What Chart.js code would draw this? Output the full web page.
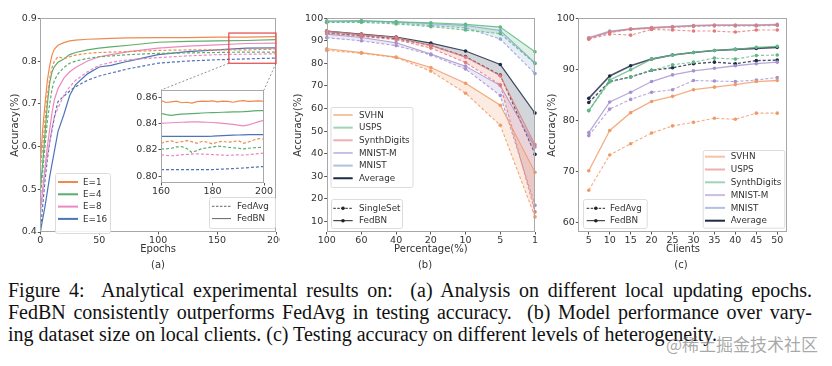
<!DOCTYPE html>
<html>
<head>
<meta charset="utf-8">
<script src="https://cdn.jsdelivr.net/npm/chart.js@4.4.1/dist/chart.umd.min.js"></script>
<style>
  body { margin:0; width:832px; height:366px; background:#fff; position:relative; overflow:hidden; }
  canvas { position:absolute; }
  .sub { position:absolute; top:259px; font:10px "DejaVu Sans"; color:#333; transform:translateX(-50%); }
  .cap { position:absolute; left:8px; top:279px; width:804px; font:20px "Liberation Serif"; line-height:22px; color:#111; }
  .cap div { text-align:justify; text-align-last:justify; }
  .cap div.last { text-align-last:left; }
  .wm { position:absolute; right:14px; top:331px; font:17px "Noto Sans CJK SC"; color:rgba(110,110,110,0.6); }
</style>
</head>
<body>
<canvas id="ca" width="280" height="270" style="left:0;top:0"></canvas>
<canvas id="ci" width="145" height="112" style="left:128px;top:84px"></canvas>
<canvas id="cb" width="262" height="270" style="left:280px;top:0"></canvas>
<canvas id="cc" width="302" height="270" style="left:530px;top:0"></canvas>
<div class="sub" style="left:158px">(a)</div>
<div class="sub" style="left:425px">(b)</div>
<div class="sub" style="left:681px">(c)</div>
<div class="cap">
  <div>Figure 4:&nbsp; Analytical experimental results on:&nbsp; (a) Analysis on different local updating epochs.</div>
  <div>FedBN consistently outperforms FedAvg in testing accuracy.&nbsp; (b) Model performance over vary-</div>
  <div class="last">ing dataset size on local clients. (c) Testing accuracy on different levels of heterogeneity.</div>
</div>
<div class="wm">@稀土掘金技术社区</div>
<script>
// ---- (a) local epochs ----
const epochs = [0, 2, 4, 6, 8, 10, 12, 15, 20, 25, 30, 40, 50, 60, 75, 100, 125, 150, 175, 200];
const e1BN   = [0.56, 0.64, 0.70, 0.755, 0.79, 0.815, 0.828, 0.837, 0.843, 0.847, 0.849, 0.851, 0.852, 0.853, 0.854, 0.855, 0.855, 0.856, 0.856, 0.857];
const e1Avg  = [0.55, 0.60, 0.66, 0.72, 0.76, 0.785, 0.80, 0.81, 0.806, 0.81, 0.814, 0.818, 0.82, 0.821, 0.822, 0.825, 0.826, 0.826, 0.826, 0.828];
const e4BN   = [0.50, 0.56, 0.63, 0.70, 0.75, 0.775, 0.787, 0.797, 0.805, 0.815, 0.82, 0.826, 0.83, 0.833, 0.837, 0.844, 0.846, 0.847, 0.848, 0.85];
const e4Avg  = [0.48, 0.54, 0.60, 0.66, 0.70, 0.735, 0.755, 0.77, 0.785, 0.795, 0.80, 0.806, 0.81, 0.812, 0.815, 0.818, 0.819, 0.82, 0.821, 0.821];
const e8BN   = [0.45, 0.50, 0.55, 0.60, 0.64, 0.68, 0.71, 0.735, 0.76, 0.775, 0.785, 0.80, 0.81, 0.815, 0.822, 0.83, 0.835, 0.838, 0.841, 0.842];
const e8Avg  = [0.44, 0.49, 0.54, 0.58, 0.61, 0.645, 0.67, 0.69, 0.72, 0.74, 0.755, 0.775, 0.79, 0.797, 0.803, 0.808, 0.812, 0.815, 0.816, 0.817];
const e16BN  = [0.40, 0.43, 0.46, 0.495, 0.53, 0.56, 0.59, 0.635, 0.675, 0.72, 0.745, 0.77, 0.786, 0.79, 0.80, 0.815, 0.822, 0.826, 0.83, 0.831];
const e16Avg = [0.40, 0.46, 0.52, 0.57, 0.61, 0.64, 0.67, 0.705, 0.718, 0.73, 0.74, 0.755, 0.765, 0.772, 0.782, 0.795, 0.80, 0.803, 0.805, 0.807];
const ticksAx = [0, 50, 100, 150, 200];
const ticksAy = [0.4, 0.5, 0.6, 0.7, 0.8, 0.9];

// inset (epochs 160-200)
const insetEpochs = [160, 162, 164, 166, 168, 170, 172, 174, 176, 178, 180, 182, 184, 186, 188, 190, 192, 194, 196, 198, 200];
const inE1BN   = [0.8575, 0.8560, 0.8565, 0.8570, 0.8558, 0.8562, 0.8555, 0.8566, 0.8570, 0.8568, 0.8572, 0.8565, 0.8570, 0.8568, 0.8562, 0.8570, 0.8574, 0.8568, 0.8570, 0.8572, 0.8568];
const inE1Avg  = [0.8250, 0.8262, 0.8268, 0.8255, 0.8262, 0.8270, 0.8262, 0.8250, 0.8265, 0.8258, 0.8245, 0.8260, 0.8265, 0.8258, 0.8262, 0.8270, 0.8250, 0.8260, 0.8275, 0.8285, 0.8282];
const inE4BN   = [0.8478, 0.8468, 0.8462, 0.8468, 0.8472, 0.8474, 0.8476, 0.8478, 0.8480, 0.8482, 0.8483, 0.8484, 0.8486, 0.8487, 0.8488, 0.8488, 0.8490, 0.8493, 0.8496, 0.8498, 0.8498];
const inE4Avg  = [0.8205, 0.8208, 0.8212, 0.8222, 0.8225, 0.8210, 0.8180, 0.8195, 0.8210, 0.8215, 0.8222, 0.8228, 0.8225, 0.8220, 0.8216, 0.8212, 0.8208, 0.8212, 0.8216, 0.8218, 0.8220];
const inE8BN   = [0.8402, 0.8404, 0.8406, 0.8408, 0.8410, 0.8411, 0.8412, 0.8412, 0.8411, 0.8410, 0.8408, 0.8405, 0.8402, 0.8398, 0.8394, 0.8388, 0.8382, 0.8390, 0.8402, 0.8414, 0.8424];
const inE8Avg  = [0.8162, 0.8158, 0.8155, 0.8158, 0.8162, 0.8165, 0.8168, 0.8170, 0.8168, 0.8166, 0.8164, 0.8162, 0.8160, 0.8158, 0.8160, 0.8162, 0.8160, 0.8163, 0.8168, 0.8172, 0.8175];
const inE16BN  = [0.8302, 0.8302, 0.8302, 0.8302, 0.8302, 0.8302, 0.8302, 0.8302, 0.8302, 0.8303, 0.8304, 0.8306, 0.8308, 0.8310, 0.8312, 0.8313, 0.8314, 0.8315, 0.8316, 0.8316, 0.8316];
const inE16Avg = [0.8050, 0.8050, 0.8050, 0.8050, 0.8050, 0.8050, 0.8050, 0.8050, 0.8050, 0.8050, 0.8050, 0.8052, 0.8054, 0.8056, 0.8058, 0.8060, 0.8062, 0.8065, 0.8068, 0.8071, 0.8073];
const ticksIx = [160, 180, 200];
const ticksIy = [0.80, 0.82, 0.84, 0.86];

// ---- (b) dataset size ----
const pctLabels = ['100', '60', '40', '20', '10', '5', '1'];
const svhnBN_b   = [86.5, 84.8, 82.8, 78.2, 71.2, 61.5, 31.8];
const svhnSS_b   = [85.8, 84.5, 82.6, 76.6, 66.8, 52.6, 12.0];
const uspsBN_b   = [98.7, 98.9, 98.4, 98.0, 97.3, 96.1, 85.2];
const uspsSS_b   = [98.1, 98.2, 97.5, 96.3, 94.8, 93.2, 80.0];
const synthBN_b  = [94.3, 92.8, 91.5, 88.0, 82.8, 74.5, 44.0];
const synthSS_b  = [93.5, 92.0, 90.5, 86.8, 80.4, 70.5, 14.2];
const mnistmBN_b = [93.0, 91.5, 89.2, 84.2, 78.8, 70.2, 43.0];
const mnistmSS_b = [91.4, 90.0, 87.9, 83.8, 77.5, 65.8, 17.1];
const mnistBN_b  = [98.8, 98.9, 98.5, 97.6, 96.8, 94.6, 80.2];
const mnistSS_b  = [98.3, 98.5, 98.0, 96.8, 95.8, 90.8, 75.5];
const avgBN_b    = [94.3, 93.0, 91.7, 89.0, 85.5, 79.5, 58.0];
const avgSS_b    = [93.5, 92.2, 91.0, 88.0, 83.0, 74.8, 39.7];
const ticksBy = [10, 20, 30, 40, 50, 60, 70, 80, 90, 100];

// ---- (c) number of clients ----
const clientLabels = ['5', '10', '15', '20', '25', '30', '35', '40', '45', '50'];
const svhnBN_c   = [70.1, 78.0, 81.5, 83.7, 84.7, 86.0, 86.5, 87.0, 87.6, 87.8];
const svhnAvg_c  = [66.3, 73.2, 75.4, 77.5, 78.9, 79.6, 80.4, 80.2, 81.4, 81.4];
const uspsBN_c   = [96.1, 97.3, 97.9, 98.1, 98.3, 98.5, 98.6, 98.6, 98.6, 98.7];
const uspsAvg_c  = [95.9, 96.9, 96.7, 97.8, 97.7, 97.5, 97.5, 97.3, 97.7, 97.7];
const synthBN_c  = [81.9, 87.9, 89.9, 92.0, 92.8, 93.3, 93.7, 93.9, 94.3, 94.5];
const synthAvg_c = [81.9, 87.5, 88.5, 89.8, 90.9, 91.4, 92.2, 92.0, 92.7, 92.8];
const mnistmBN_c = [77.6, 83.6, 85.5, 87.6, 88.9, 89.7, 90.2, 90.7, 91.1, 91.4];
const mnistmAvg_c= [77.0, 82.2, 84.1, 85.5, 86.0, 87.8, 87.7, 87.6, 87.9, 88.4];
const mnistBN_c  = [96.2, 97.5, 97.9, 98.2, 98.4, 98.6, 98.7, 98.7, 98.7, 98.8];
const mnistAvg_c = [96.0, 97.2, 97.8, 98.0, 98.2, 98.4, 98.5, 98.5, 98.5, 98.6];
const avgBN_c    = [84.3, 88.7, 90.7, 92.0, 92.8, 93.3, 93.7, 93.9, 94.1, 94.3];
const avgAvg_c   = [83.5, 87.6, 88.5, 89.8, 90.3, 91.1, 91.4, 91.1, 91.7, 91.8];
const ticksCy = [60, 70, 80, 90, 100];

// colours
const cE = {e1:'#ef8a4e', e4:'#5bae6c', e8:'#ec88c0', e16:'#4e74b8'};
const cD = {orange:'#f19a66', green:'#5fb883', red:'#e27a7a', purple:'#a592cf', blue:'#8ea6d6', navy:'#1d2b45'};
const txt = '#333';
const tickFont = {family:'DejaVu Sans', size:9.5};
const titleFont = {family:'DejaVu Sans', size:10};

function rgba(hex, a) {
  const n = parseInt(hex.slice(1), 16);
  return `rgba(${n >> 16},${(n >> 8) & 255},${n & 255},${a})`;
}

// frame + legend boxes + background + y title
const framePlugin = {
  id: 'frame',
  beforeDatasetsDraw(chart, args, opts) {
    if (!opts.bg) return;
    const a = chart.chartArea;
    chart.ctx.save();
    chart.ctx.fillStyle = '#fff';
    chart.ctx.fillRect(a.left, a.top, a.right - a.left, a.bottom - a.top);
    chart.ctx.restore();
  },
  afterDatasetsDraw(chart) {
    const {ctx, chartArea: a} = chart;
    ctx.save();
    ctx.strokeStyle = '#a8a8a8';
    ctx.lineWidth = 1;
    ctx.strokeRect(Math.round(a.left) + 0.5, Math.round(a.top) + 0.5, Math.round(a.right - a.left) - 1, Math.round(a.bottom - a.top) - 1);
    ctx.restore();
  },
  afterDraw(chart, args, opts) {
    if (!opts.ytitle) return;
    const {ctx, chartArea: a} = chart;
    ctx.save();
    ctx.translate(chart.scales.y.left + 6, (a.top + a.bottom) / 2);
    ctx.rotate(-Math.PI / 2);
    ctx.font = '10px "DejaVu Sans"';
    ctx.fillStyle = txt;
    ctx.textAlign = 'center';
    ctx.textBaseline = 'middle';
    ctx.fillText(opts.ytitle, 0, 0);
    ctx.restore();
  }
};

const boxesPlugin = {
  id: 'boxes',
  afterDraw(chart, args, opts) {
    const ctx = chart.ctx;
    (opts.list || []).forEach(b => {
      ctx.save();
      ctx.fillStyle = 'rgba(255,255,255,0.85)';
      ctx.strokeStyle = '#dcdcdc';
      ctx.lineWidth = 1;
      ctx.beginPath();
      ctx.roundRect(b.x + 0.5, b.y + 0.5, b.w, b.h, 2);
      ctx.fill();
      ctx.stroke();
      ctx.font = '8.8px "DejaVu Sans"';
      ctx.textBaseline = 'middle';
      b.items.forEach((it, i) => {
        const y = b.y0 + i * b.dy;
        ctx.strokeStyle = it.color;
        ctx.lineWidth = it.w || 2;
        ctx.setLineDash(it.dash || []);
        ctx.beginPath();
        ctx.moveTo(b.lx0, y);
        ctx.lineTo(b.lx1, y);
        ctx.stroke();
        ctx.setLineDash([]);
        if (it.marker) {
          ctx.fillStyle = it.color;
          ctx.beginPath();
          ctx.arc((b.lx0 + b.lx1) / 2, y, 1.8, 0, Math.PI * 2);
          ctx.fill();
        }
        ctx.fillStyle = txt;
        ctx.fillText(it.label, b.tx, y + 0.5);
      });
      ctx.restore();
    });
  }
};
Chart.register(framePlugin, boxesPlugin);

function yAxis(min, max, ticks, width, fmt) {
  return {
    type: 'linear', min, max,
    afterBuildTicks: s => { s.ticks = ticks.map(v => ({value: v})); },
    afterFit: s => { s.width = width; s.paddingTop = 0; s.paddingBottom = 0; },
    grid: {drawOnChartArea: false, tickLength: 2.5, color: '#555'},
    border: {display: false},
    ticks: {font: tickFont, color: txt, padding: 1, autoSkip: false, callback: fmt}
  };
}
function xAxis(extra, height, title) {
  return Object.assign({
    afterFit: s => { s.height = height; s.paddingLeft = 0; s.paddingRight = 0; },
    grid: {drawOnChartArea: false, tickLength: 2.5, color: '#555'},
    border: {display: false},
    ticks: {font: tickFont, color: txt, padding: 0, autoSkip: false, maxRotation: 0},
    title: {display: !!title, text: title, font: titleFont, color: txt, padding: 0}
  }, extra);
}

// ---- chart (a) ----
const insetBox = {left: 161, top: 90, right: 264, bottom: 183};
const insetY = {min: 0.7948, max: 0.8655};

function pts(xs, ys) { return ys.map((v, i) => ({x: xs[i], y: v})); }
function lineA(data, xs, color, dashed) {
  return {data: pts(xs, data), borderColor: color, borderWidth: 1.2, borderDash: dashed ? [3, 2] : [], pointRadius: 0, fill: false, tension: 0};
}

const zoomPlugin = {
  id: 'zoomRect',
  afterDatasetsDraw(chart) {
    const {ctx, scales: {x, y}} = chart;
    const l = x.getPixelForValue(160), r = x.getPixelForValue(200);
    const t = y.getPixelForValue(insetY.max), b = y.getPixelForValue(insetY.min);
    ctx.save();
    ctx.strokeStyle = 'rgba(80,80,80,0.8)';
    ctx.lineWidth = 0.8;
    ctx.setLineDash([2, 2]);
    ctx.beginPath();
    ctx.moveTo(l, b); ctx.lineTo(insetBox.left, insetBox.top);
    ctx.moveTo(r, b); ctx.lineTo(insetBox.right, insetBox.top);
    ctx.stroke();
    ctx.setLineDash([]);
    ctx.strokeStyle = '#e2474a';
    ctx.lineWidth = 1.2;
    ctx.strokeRect(l, t, r - l, b - t);
    ctx.restore();
  }
};

new Chart(document.getElementById('ca'), {
  type: 'line',
  data: {
    datasets: [
      lineA(e1BN, epochs, cE.e1, false), lineA(e1Avg, epochs, cE.e1, true),
      lineA(e4BN, epochs, cE.e4, false), lineA(e4Avg, epochs, cE.e4, true),
      lineA(e8BN, epochs, cE.e8, false), lineA(e8Avg, epochs, cE.e8, true),
      lineA(e16BN, epochs, cE.e16, false), lineA(e16Avg, epochs, cE.e16, true)
    ]
  },
  options: {
    responsive: false, animation: false,
    layout: {padding: {left: 9.3, top: 18.3, right: 4, bottom: 14.5}},
    plugins: {
      legend: {display: false}, tooltip: {enabled: false},
      frame: {ytitle: 'Accuracy(%)'},
      boxes: {list: [
        {x: 55, y: 173, w: 55, h: 60, lx0: 58, lx1: 78, tx: 83, y0: 182, dy: 12.3, items: [
          {label: 'E=1', color: cE.e1}, {label: 'E=4', color: cE.e4},
          {label: 'E=8', color: cE.e8}, {label: 'E=16', color: cE.e16}]},
        {x: 209, y: 197, w: 66, h: 31, lx0: 212, lx1: 231, tx: 237, y0: 206.3, dy: 12.3, items: [
          {label: 'FedAvg', color: '#666', dash: [2.5, 1.5], w: 1}, {label: 'FedBN', color: '#666', w: 1}]}
      ]}
    },
    scales: {
      x: xAxis({type: 'linear', min: 0, max: 200, afterBuildTicks: s => { s.ticks = ticksAx.map(v => ({value: v})); }}, 23.5, 'Epochs'),
      y: yAxis(0.4, 0.9, ticksAy, 31, v => v.toFixed(1))
    }
  },
  plugins: [zoomPlugin]
});

// ---- inset ----
const insetCanvasPos = {left: 128, top: 84};
new Chart(document.getElementById('ci'), {
  type: 'line',
  data: {
    datasets: [
      lineA(inE1BN, insetEpochs, cE.e1, false), lineA(inE1Avg, insetEpochs, cE.e1, true),
      lineA(inE4BN, insetEpochs, cE.e4, false), lineA(inE4Avg, insetEpochs, cE.e4, true),
      lineA(inE8BN, insetEpochs, cE.e8, false), lineA(inE8Avg, insetEpochs, cE.e8, true),
      lineA(inE16BN, insetEpochs, cE.e16, false), lineA(inE16Avg, insetEpochs, cE.e16, true)
    ]
  },
  options: {
    responsive: false, animation: false,
    layout: {padding: {left: 0, top: insetBox.top - insetCanvasPos.top, right: 145 - (insetBox.right - insetCanvasPos.left), bottom: 0}},
    plugins: {legend: {display: false}, tooltip: {enabled: false}, frame: {bg: true}},
    scales: {
      x: xAxis({type: 'linear', min: 160, max: 200, afterBuildTicks: s => { s.ticks = ticksIx.map(v => ({value: v})); }}, 112 - (insetBox.bottom - insetCanvasPos.top), ''),
      y: yAxis(insetY.min, insetY.max, ticksIy, insetBox.left - insetCanvasPos.left, v => v.toFixed(2))
    }
  }
});

// ---- chart (b) ----
function pairB(bn, ss, color) {
  return [
    {data: bn, borderColor: rgba(color, 0.85), backgroundColor: rgba(color, 0.2), borderWidth: 1.1,
     pointRadius: 1.8, pointBorderWidth: 0, pointBackgroundColor: color, fill: '+1', tension: 0},
    {data: ss, borderColor: rgba(color, 0.85), borderWidth: 1.1, borderDash: [3, 2],
     pointRadius: 1.8, pointBorderWidth: 0, pointBackgroundColor: color, fill: false, tension: 0}
  ];
}
new Chart(document.getElementById('cb'), {
  type: 'line',
  data: {
    labels: pctLabels,
    datasets: [
      ...pairB(svhnBN_b, svhnSS_b, cD.orange),
      ...pairB(uspsBN_b, uspsSS_b, cD.green),
      ...pairB(synthBN_b, synthSS_b, cD.red),
      ...pairB(mnistmBN_b, mnistmSS_b, cD.purple),
      ...pairB(mnistBN_b, mnistSS_b, cD.blue),
      ...pairB(avgBN_b, avgSS_b, cD.navy)
    ]
  },
  options: {
    responsive: false, animation: false,
    layout: {padding: {left: 12.6, top: 18.3, right: 7, bottom: 14.5}},
    plugins: {
      legend: {display: false}, tooltip: {enabled: false},
      frame: {ytitle: 'Accuracy(%)'},
      boxes: {list: [
        {x: 50.5, y: 107, w: 82, h: 80, lx0: 53.3, lx1: 72.7, tx: 79, y0: 115, dy: 12.65, items: [
          {label: 'SVHN', color: rgba(cD.orange, 0.6)}, {label: 'USPS', color: rgba(cD.green, 0.6)},
          {label: 'SynthDigits', color: rgba(cD.red, 0.6)}, {label: 'MNIST-M', color: rgba(cD.purple, 0.6)},
          {label: 'MNIST', color: rgba(cD.blue, 0.7)}, {label: 'Average', color: cD.navy}]},
        {x: 51, y: 199, w: 71, h: 29, lx0: 53.3, lx1: 72.7, tx: 79, y0: 208.3, dy: 12.4, items: [
          {label: 'SingleSet', color: '#222', dash: [2.5, 1.5], w: 1, marker: true},
          {label: 'FedBN', color: '#222', w: 1, marker: true}]}
      ]}
    },
    scales: {
      x: xAxis({type: 'category', offset: false}, 23.5, 'Percentage(%)'),
      y: yAxis(5.3, 100, ticksBy, 34.1, v => String(v))
    }
  }
});

// ---- chart (c) ----
function pairC(bn, avg, color, w) {
  return [
    {data: bn, borderColor: rgba(color, 0.8), borderWidth: w, pointRadius: 1.8, pointBorderWidth: 0,
     pointBackgroundColor: color, fill: false, tension: 0},
    {data: avg, borderColor: rgba(color, 0.8), borderWidth: w - 0.2, borderDash: [3, 2], pointRadius: 1.8,
     pointBorderWidth: 0, pointBackgroundColor: color, fill: false, tension: 0}
  ];
}
new Chart(document.getElementById('cc'), {
  type: 'line',
  data: {
    labels: clientLabels,
    datasets: [
      ...pairC(svhnBN_c, svhnAvg_c, cD.orange, 1.3),
      ...pairC(uspsBN_c, uspsAvg_c, cD.red, 1.3),
      ...pairC(synthBN_c, synthAvg_c, cD.green, 1.3),
      ...pairC(mnistmBN_c, mnistmAvg_c, cD.purple, 1.3),
      ...pairC(mnistBN_c, mnistAvg_c, cD.blue, 1.3),
      ...pairC(avgBN_c, avgAvg_c, cD.navy, 1.6)
    ]
  },
  options: {
    responsive: false, animation: false,
    layout: {padding: {left: 16, top: 18.3, right: 44.3, bottom: 14.5}},
    plugins: {
      legend: {display: false}, tooltip: {enabled: false},
      frame: {ytitle: 'Accuracy(%)'},
      boxes: {list: [
        {x: 172.7, y: 150, w: 81.6, h: 77.7, lx0: 175, lx1: 195, tx: 200.7, y0: 156.7, dy: 12.8, items: [
          {label: 'SVHN', color: rgba(cD.orange, 0.6)}, {label: 'USPS', color: rgba(cD.red, 0.6)},
          {label: 'SynthDigits', color: rgba(cD.green, 0.6)}, {label: 'MNIST-M', color: rgba(cD.purple, 0.6)},
          {label: 'MNIST', color: rgba(cD.blue, 0.7)}, {label: 'Average', color: cD.navy}]},
        {x: 53, y: 199, w: 63.7, h: 29, lx0: 56.7, lx1: 75, tx: 80, y0: 208.3, dy: 12.4, items: [
          {label: 'FedAvg', color: '#222', dash: [2.5, 1.5], w: 1, marker: true},
          {label: 'FedBN', color: '#222', w: 1, marker: true}]}
      ]}
    },
    scales: {
      x: xAxis({type: 'category', offset: true}, 23.5, 'Clients'),
      y: yAxis(58.1, 100, ticksCy, 32.3, v => String(v))
    }
  }
});
</script>
</body>
</html>
